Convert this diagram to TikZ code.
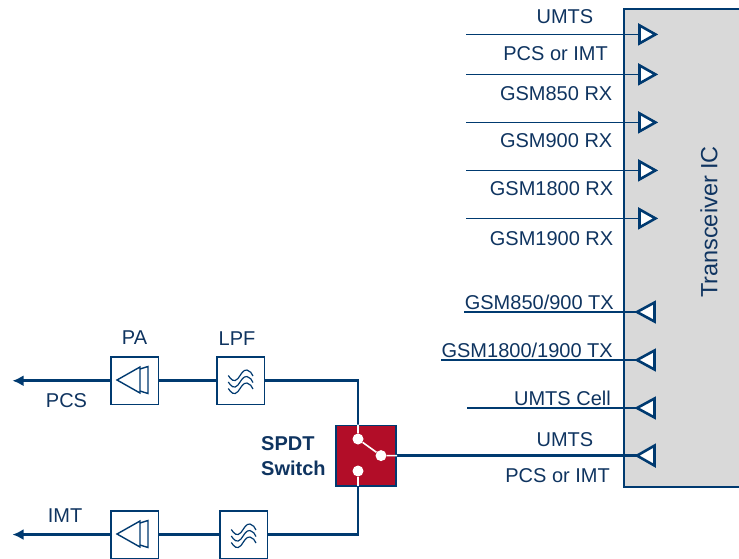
\documentclass[tikz,border=0pt]{standalone}
\usepackage{fontspec}
\usetikzlibrary{arrows.meta}
\setmainfont{Liberation Sans}
\definecolor{navy}{HTML}{003A70}
\definecolor{txt}{HTML}{0F3460}
\definecolor{swred}{HTML}{B20D28}
\definecolor{icgray}{HTML}{D9D9D9}
\tikzset{
  wire/.style={draw=navy,line width=1.6pt},
  thick wire/.style={draw=navy,line width=2.6pt},
  block/.style={draw=navy,line width=1.6pt,fill=white,minimum size=47.5pt,inner sep=0pt,anchor=north west},
  lbl/.style={text=txt,font=\fontsize{20}{24}\selectfont,inner sep=0pt},
  port/.style={draw=navy,line width=2.6pt,fill=white,line join=miter},
  glyph/.style={draw=navy,line width=1.4pt,line join=miter},
  swdot/.style={circle,fill=white,minimum size=11pt,inner sep=0pt},
}
\newcommand{\paglyph}[2]{%
  \draw[glyph] (#1+7,#2+24) -- (#1+30,#2+11) -- (#1+30,#2+37) -- cycle;
  \draw[glyph] (#1+30,#2+13) -- (#1+38,#2+10.5) -- (#1+38,#2+37.5) -- (#1+30,#2+35);
}
\newcommand{\lpfglyph}[2]{%
  \foreach \d in {-6.5,0,6.5}{
    \draw[glyph,line width=1.2pt] (#1+12.3,#2+25+\d) .. controls (#1+15,#2+29+\d) and (#1+18,#2+32.5+\d) .. (#1+22,#2+28+\d)
       .. controls (#1+25,#2+24+\d) and (#1+27,#2+19+\d) .. (#1+31,#2+19.5+\d)
       .. controls (#1+34,#2+20+\d) and (#1+36,#2+23+\d) .. (#1+37,#2+25.5+\d);
  }
}
\begin{document}
\begin{tikzpicture}[x=1pt,y=-1pt]
\useasboundingbox (0,0) rectangle (739,558);
% IC
\fill[icgray] (624,9) rectangle (739,487);
\draw[navy,line width=1.6pt] (739,9) -- (624,9) -- (624,487) -- (739,487);
\node[lbl,rotate=90,font=\fontsize{23.5}{28}\selectfont] (ic) at (709,222) {Transceiver IC};
% input ports
\foreach \n/\y/\xs in {r1/34.4/466,r2/74.4/466,r3/122.4/466,r4/170.4/466,r5/218.4/466}{
  \coordinate (\n s) at (\xs,\y);
  \coordinate (\n) at (639.5,\y);
  \draw[wire] (\n s) -- (\n);
  \draw[port] (639.5,\y-9) -- (655.5,\y) -- (639.5,\y+9) -- cycle;
}
% output ports
\foreach \n/\y/\xs in {t1/312/464,t2/360/441,t3/408/467}{
  \coordinate (\n s) at (\xs,\y);
  \coordinate (\n) at (637,\y);
  \draw[wire] (\n s) -- (\n);
  \draw[port] (637,\y) -- (654.5,\y-9.5) -- (654.5,\y+9.5) -- cycle;
}
% labels
\node[lbl,anchor=base east] (l1) at (593.5,23) {UMTS};
\node[lbl,anchor=base east] (l2) at (608,60) {PCS or IMT};
\node[lbl,anchor=base east] (l3) at (612.5,100) {GSM850 RX};
\node[lbl,anchor=base east] (l4) at (612.5,147) {GSM900 RX};
\node[lbl,anchor=base east] (l5) at (613.5,195) {GSM1800 RX};
\node[lbl,anchor=base east] (l6) at (613.5,245) {GSM1900 RX};
\node[lbl,anchor=base east] (l7) at (614,309) {GSM850/900 TX};
\node[lbl,anchor=base east] (l8) at (613,357) {GSM1800/1900 TX};
\node[lbl,anchor=base east] (l9) at (611,405) {UMTS Cell};
\node[lbl,anchor=base east] (l10) at (593.5,446) {UMTS};
\node[lbl,anchor=base east] (l11) at (610,482) {PCS or IMT};
% blocks
\node[block] (pa1) at (110,356.2) {};
\node[block] (lpf1) at (216,356.2) {};
\node[block] (pa2) at (110,510) {};
\node[block] (lpf2) at (219,510) {};
\paglyph{110}{356}
\lpfglyph{216}{357}
\paglyph{110}{510}
\lpfglyph{219}{511}
\node[lbl,anchor=base] (pal) at (134.5,344) {PA};
\node[lbl,anchor=base] (lpfl) at (237,345) {LPF};
\node[lbl,anchor=base] (pcs) at (66.5,407) {PCS};
\node[lbl,anchor=base] (imt) at (65,522) {IMT};
% switch
\node[draw=navy,line width=1.6pt,fill=swred,minimum size=60.5pt,inner sep=0pt] (sw) at (366,455.6) {};
\coordinate (swt) at (358,424.6);
\coordinate (swb) at (358,486);
\coordinate (pcsend) at (12.5,380.75);
\coordinate (imtend) at (12.5,534.55);
\draw[thick wire,-{Latex[length=11pt,width=11pt]}] (pa1.west) -- (pcsend);
\draw[thick wire,-{Latex[length=11pt,width=11pt]}] (pa2.west) -- (imtend);
\draw[thick wire] (pa1.east) -- (lpf1.west);
\draw[thick wire] (pa2.east) -- (lpf2.west);
\draw[thick wire] (lpf1.east) -- (358,380.75) -- (swt);
\draw[thick wire] (lpf2.east) -- (358,534.55) -- (swb);
\draw[thick wire] (sw.east) -- (637,455.6);
\draw[port] (637,455.6) -- (654.5,445.6) -- (654.5,465.6) -- cycle;
\node[lbl,align=left,anchor=north west,font=\fontsize{20}{25}\selectfont\bfseries] (swl) at (261,436) {SPDT\\Switch};
\node[swdot] (d1) at (358,439) {};
\node[swdot] (d2) at (381,455.6) {};
\node[swdot] (d3) at (358,471) {};
\draw[white,line width=1.6pt] (swt) -- (d1) -- (d2) -- (sw.east);
\draw[white,line width=1.6pt] (d3) -- (swb);
\end{tikzpicture}
\end{document}
